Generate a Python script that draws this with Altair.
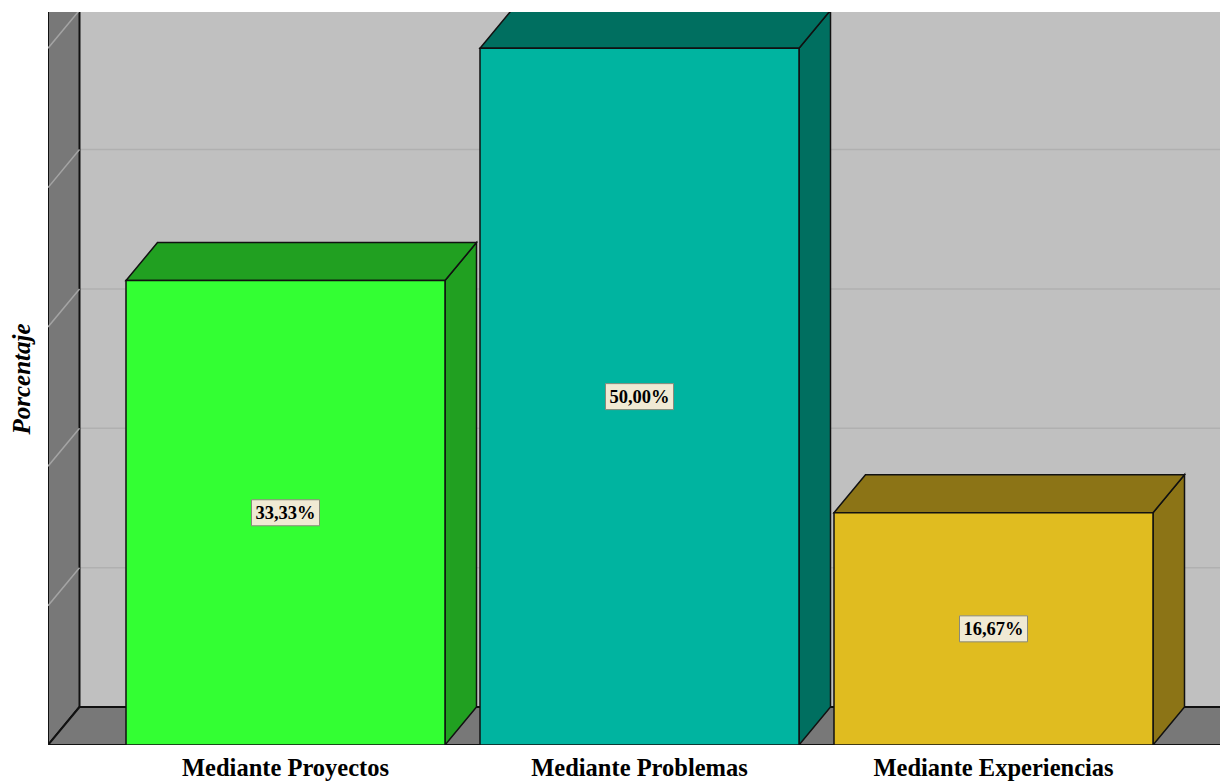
import altair as alt
import pandas as pd

# ---- data ----
categories = ["Mediante Proyectos", "Mediante Problemas", "Mediante Experiencias"]
values = [33.33, 50.00, 16.67]
value_labels = ["33,33%", "50,00%", "16,67%"]
grid_values = [10, 20, 30, 40, 50]

# ---- styles / layout ----
front_colors = ["#33ff33", "#00b4a0", "#e0bc20"]
dark_colors = ["#21a021", "#006f60", "#8c7416"]
WALL = "#c0c0c0"
SIDEWALL = "#787878"
EDGE = "#111111"

W, H = 1172, 733          # plot area in px
YMAX = 52.6               # value at top of plot area
PX = H / YMAX             # px per percent
DX = 31.5                 # depth offset (px)
DY = 38 / PX              # depth offset (value units)
X0, SLOT, BW = 78, 354, 319

xs = alt.Scale(domain=[0, W], nice=False, zero=False)
ys = alt.Scale(domain=[0, YMAX], nice=False, zero=False)
yaxis = alt.Axis(title="Porcentaje", labels=False, ticks=False, domain=False, grid=False,
                 titleFont="Liberation Serif", titleFontSize=25, titleFontStyle="italic",
                 titleFontWeight="bold", titleColor="#000000", titlePadding=14)


def X(f):
    return alt.X(f, type="quantitative", scale=xs, axis=None)


def Y(f):
    return alt.Y(f, type="quantitative", scale=ys, axis=yaxis)


# ---- derived tables ----
bars = pd.DataFrame({"cat": categories, "value": values, "label": value_labels})
bars["x0"] = [X0 + i * SLOT for i in range(len(categories))]
bars["x1"] = bars["x0"] + BW
bars["xc"] = bars["x0"] + BW / 2
bars["zero"] = 0.0
bars["mid"] = bars["value"] / 2
bars["bx0"] = bars["xc"] - 34
bars["bx1"] = bars["xc"] + 34
bars["by0"] = bars["mid"] - 13 / PX
bars["by1"] = bars["mid"] + 13 / PX

top_rows, side_rows = [], []
for c, v, a, b in zip(bars["cat"], bars["value"], bars["x0"], bars["x1"]):
    top_rows += [{"cat": c, "y": v, "xa": a, "xb": b},
                 {"cat": c, "y": v + DY, "xa": a + DX, "xb": b + DX}]
    side_rows += [{"cat": c, "x": b, "ya": v, "yb": 0.0},
                  {"cat": c, "x": b + DX, "ya": v + DY, "yb": DY}]
top = pd.DataFrame(top_rows)
side = pd.DataFrame(side_rows)

back = pd.DataFrame({"xa": [DX], "xb": [W + 60], "ya": [DY], "yb": [YMAX + 10]})
grid = pd.DataFrame({"g": [g + DY for g in grid_values], "xa": DX, "xb": W + 60})
diag = pd.DataFrame({"x": 0.0, "x2": DX, "y": grid_values, "y2": [g + DY for g in grid_values]})
leftwall = pd.DataFrame({"x": [0.0, DX], "ya": [0.0, DY], "yb": [YMAX + 10, YMAX + 10]})
floor = pd.DataFrame({"y": [0.0, DY], "xa": [0.0, DX], "xb": [W + 60, W + 60]})

front_scale = alt.Scale(domain=categories, range=front_colors)
dark_scale = alt.Scale(domain=categories, range=dark_colors)

l_back = alt.Chart(back).mark_rect(color=WALL, clip=True).encode(
    x=X("xa"), x2="xb", y=Y("ya"), y2="yb")
l_grid = alt.Chart(grid).mark_rule(color="#b0b0b0", strokeWidth=1.5, clip=True).encode(
    x=X("xa"), x2="xb", y=Y("g"))
l_left = alt.Chart(leftwall).mark_area(color=SIDEWALL, stroke=EDGE, strokeWidth=2,
                                       orient="vertical", clip=True).encode(
    x=X("x"), y=Y("ya"), y2="yb")
l_diag = alt.Chart(diag).mark_rule(color="#a4a4a4", strokeWidth=1.5, clip=True).encode(
    x=X("x"), x2="x2", y=Y("y"), y2="y2")
l_floor = alt.Chart(floor).mark_area(color=SIDEWALL, stroke=EDGE, strokeWidth=2,
                                     orient="horizontal", clip=True).encode(
    y=Y("y"), x=X("xa"), x2="xb")

l_side = alt.Chart(side).mark_area(stroke=EDGE, strokeWidth=1.5, orient="vertical",
                                   opacity=1, clip=True).encode(
    x=X("x"), y=Y("ya"), y2="yb",
    color=alt.Color("cat:N", scale=dark_scale, legend=None))
l_top = alt.Chart(top).mark_area(stroke=EDGE, strokeWidth=1.5, orient="horizontal",
                                 opacity=1, clip=True).encode(
    y=Y("y"), x=X("xa"), x2="xb",
    color=alt.Color("cat:N", scale=dark_scale, legend=None))
l_front = alt.Chart(bars).mark_rect(stroke=EDGE, strokeWidth=1.5, clip=True).encode(
    x=X("x0"), x2="x1", y=Y("zero"), y2="value",
    color=alt.Color("cat:N", scale=front_scale, legend=None))
l_box = alt.Chart(bars).mark_rect(fill="#f0ead4", stroke="#8a8a7a", strokeWidth=1).encode(
    x=X("bx0"), x2="bx1", y=Y("by0"), y2="by1")
l_val = alt.Chart(bars).mark_text(font="Liberation Serif", fontSize=18.5, fontWeight="bold",
                                  color="#000000", baseline="middle").encode(
    x=X("xc"), y=Y("mid"), text="label:N")
l_cat = alt.Chart(bars).mark_text(font="Liberation Serif", fontSize=24.5, fontWeight="bold",
                                  color="#000000", baseline="alphabetic").encode(
    x=X("xc"), y=alt.value(H + 31), text="cat:N")

chart = alt.layer(
    l_back, l_grid, l_left, l_diag, l_floor, l_side, l_top, l_front, l_box, l_val, l_cat
).resolve_scale(color="independent").properties(
    width=W, height=H, autosize="none",
    padding={"left": 48, "top": 12, "right": 0, "bottom": 37},
    background="#ffffff",
).configure_view(stroke=None)

chart.save("out.html", embed_options={"renderer": "svg", "actions": False})
